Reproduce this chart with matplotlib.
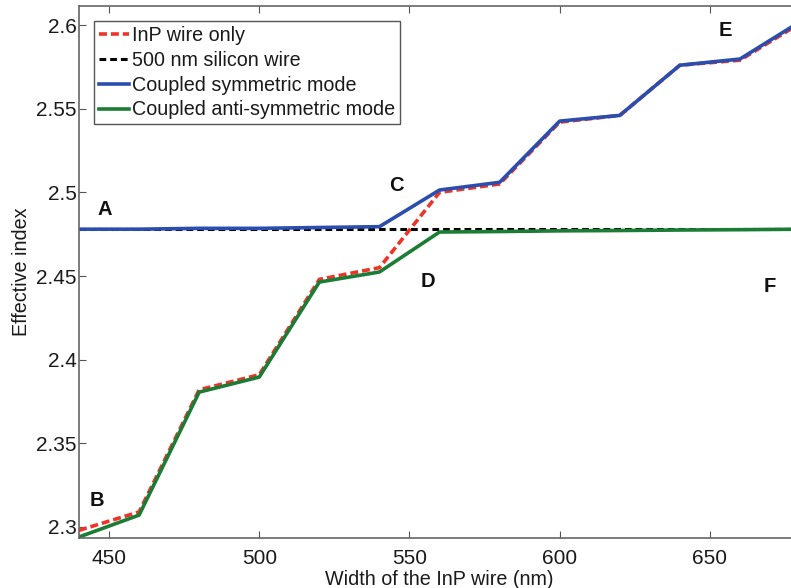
import matplotlib.pyplot as plt

plt.rcParams['font.family'] = ['Liberation Sans', 'DejaVu Sans']

# InP wire width (nm)
width = [440, 460, 480, 500, 520, 540, 560, 580, 600, 620, 640, 660, 680]

# effective index of each mode
inp_only = [2.298, 2.309, 2.382, 2.391, 2.448, 2.455, 2.500, 2.505, 2.542, 2.546, 2.576, 2.579, 2.601]
silicon = [2.478] * len(width)
symmetric = [2.478, 2.478, 2.4785, 2.4785, 2.479, 2.4795, 2.5014, 2.506, 2.5426, 2.546, 2.576, 2.5797, 2.602]
anti_symmetric = [2.294, 2.3071, 2.3806, 2.3896, 2.4464, 2.4524, 2.4763, 2.4766, 2.477, 2.4772, 2.4775, 2.4777, 2.478]

# point labels (x, y, text)
lbl_x = [448.5, 445.8, 545.5, 556, 655, 670]
lbl_y = [2.4895, 2.316, 2.504, 2.447, 2.597, 2.444]
lbl_txt = ['A', 'B', 'C', 'D', 'E', 'F']

fig = plt.figure(figsize=(7.91, 5.88), dpi=100)
ax = fig.add_axes([0.0999, 0.085, 0.9115, 0.9048])

ax.plot(width, inp_only, '--', color='#ee3328', lw=2.6, dashes=(2.2, 1.1), label='InP wire only')
ax.plot(width, silicon, '--', color='black', lw=2.2, dashes=(2.2, 1.3), label='500 nm silicon wire')
ax.plot(width, symmetric, '-', color='#2a4dae', lw=2.6, label='Coupled symmetric mode')
ax.plot(width, anti_symmetric, '-', color='#1b7d35', lw=2.6, label='Coupled anti-symmetric mode')

for x, y, t in zip(lbl_x, lbl_y, lbl_txt):
    ax.text(x, y, t, fontsize=14.5, fontweight='bold', ha='center', va='center', color='#111111')

ax.set_xlim(440, 680)
ax.set_ylim(2.2934, 2.6114)
ax.set_xticks([450, 500, 550, 600, 650])
ax.set_yticks([2.3, 2.35, 2.4, 2.45, 2.5, 2.55, 2.6])
ax.set_yticklabels(['2.3', '2.35', '2.4', '2.45', '2.5', '2.55', '2.6'])
ax.tick_params(direction='in', length=5, width=0.8, color='#555555', labelsize=15,
               labelcolor='#1a1a1a', top=True, right=True)
ax.tick_params(axis='y', pad=1.5)
ax.tick_params(axis='x', pad=8)
for s in ax.spines.values():
    s.set_color('#666666')
    s.set_linewidth(1.2)

ax.set_xlabel('Width of the InP wire (nm)', fontsize=14.2, labelpad=1.5, color='#1a1a1a')
ax.set_ylabel('Effective index', fontsize=14.2, labelpad=4, color='#1a1a1a')

leg = ax.legend(loc='upper left', fontsize=14.2, handlelength=1.55, handletextpad=0.15,
                borderaxespad=0.75, labelspacing=0.3, fancybox=False, framealpha=1,
                borderpad=0.25)
leg.get_frame().set_edgecolor('#555555')
leg.get_frame().set_linewidth(1.0)
for t in leg.get_texts():
    t.set_color('#1a1a1a')

fig.savefig('out.png', dpi=100)
